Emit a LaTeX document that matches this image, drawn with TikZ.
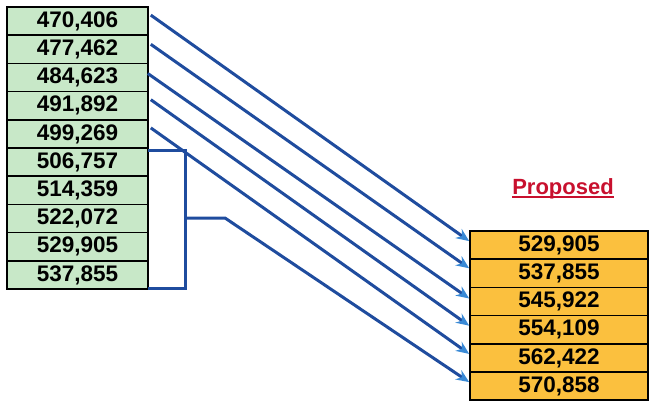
\documentclass[tikz,border=0pt]{standalone}
\usepackage{fontspec}
\setmainfont{Liberation Sans}
\usetikzlibrary{arrows.meta,calc}
\definecolor{cellgreen}{HTML}{C8E8C8}
\definecolor{cellorange}{HTML}{FBC03E}
\definecolor{lineblue}{HTML}{1F4C9E}
\definecolor{tipblue}{HTML}{3A8AD6}
\definecolor{propred}{HTML}{C8102E}
\begin{document}
\begin{tikzpicture}[x=1pt,y=-1pt,
  lcell/.style={draw=black,line width=1.6pt,fill=cellgreen,minimum width=141pt,minimum height=28.2pt,inner sep=0pt,font=\fontsize{22.5}{23}\selectfont\bfseries},
  rcell/.style={draw=black,line width=1.6pt,fill=cellorange,minimum width=178pt,minimum height=28.2pt,inner sep=0pt,font=\fontsize{22.5}{23}\selectfont\bfseries},
  link/.style={draw=lineblue,line width=3pt,-{Stealth[length=13pt,width=11pt,fill=tipblue,color=tipblue]}},
  brk/.style={draw=lineblue,line width=3pt,line join=miter}]
\useasboundingbox (0,0) rectangle (649,402);
\node[lcell] (L1) at (77.5,21.1) {470,406};
\node[lcell] (L2) at (77.5,49.3) {477,462};
\node[lcell] (L3) at (77.5,77.5) {484,623};
\node[lcell] (L4) at (77.5,105.7) {491,892};
\node[lcell] (L5) at (77.5,133.9) {499,269};
\node[lcell] (L6) at (77.5,162.1) {506,757};
\node[lcell] (L7) at (77.5,190.3) {514,359};
\node[lcell] (L8) at (77.5,218.5) {522,072};
\node[lcell] (L9) at (77.5,246.7) {529,905};
\node[lcell] (L10) at (77.5,274.9) {537,855};
\node[rcell] (R1) at (559,245.1) {529,905};
\node[rcell] (R2) at (559,273.3) {537,855};
\node[rcell] (R3) at (559,301.5) {545,922};
\node[rcell] (R4) at (559,329.7) {554,109};
\node[rcell] (R5) at (559,357.9) {562,422};
\node[rcell] (R6) at (559,386.1) {570,858};
\node[font=\fontsize{22}{23}\selectfont\bfseries,text=propred,inner sep=0pt] (P) at (563,189) {Proposed};
\draw[propred,line width=2pt] ([yshift=-2.5pt]P.base west) -- ([yshift=-2.5pt]P.base east);
\coordinate (B1) at (185,150);
\coordinate (B2) at (185,288);
\coordinate (BM) at (185,218);
\coordinate (BT) at (225,218);
\coordinate (BS) at (148,150);
\coordinate (BE) at (148,288);
\draw[link] ([xshift=2pt,yshift=6pt]L1.east) -- ([yshift=4pt]R1.west);
\draw[link] ([xshift=2pt,yshift=5pt]L2.east) -- ([yshift=5pt]R2.west);
\draw[link] ([xshift=-1pt,yshift=4pt]L3.east) -- ([yshift=3pt]R3.west);
\draw[link] ([xshift=2pt,yshift=6pt]L4.east) -- ([yshift=4pt]R4.west);
\draw[link] ([xshift=2pt,yshift=6pt]L5.east) -- ([yshift=4pt]R5.west);
\draw[brk] (BS) -- (B1) -- (B2) -- (BE);
\draw[link] (BM) -- (BT) -- ([yshift=4pt]R6.west);
\end{tikzpicture}
\end{document}
